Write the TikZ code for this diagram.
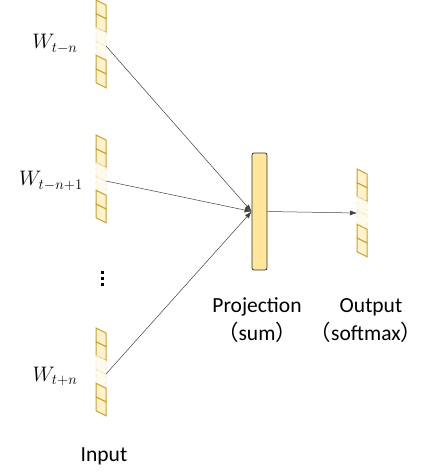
\documentclass[tikz,border=0pt]{standalone}
\usepackage{fix-cm}
\usepackage{amsmath,amssymb}
\usepackage{fontspec}
\setmainfont{Carlito}
\newfontfamily\cjk{Noto Sans CJK SC}
\usepackage{tikz}
\usetikzlibrary{positioning,calc,arrows.meta}
\usepackage{xcolor}
\definecolor{cellline}{HTML}{C9A227}
\definecolor{cellfill}{HTML}{FFF2CC}
\definecolor{fadefill}{HTML}{FFFAEE}
\definecolor{fadeline}{HTML}{F3E6C0}
\definecolor{projfill}{HTML}{FFE699}

\tikzset{
  cell/.style={draw=cellline, fill=cellfill, line width=1pt},
  fadecell/.style={draw=fadeline, fill=fadefill, dashed, line width=0.8pt},
  link/.style={draw=black!75, line width=0.5pt, -{Latex[length=7pt,width=5pt]}},
  lbl/.style={font=\fontsize{21.5}{25}\selectfont, inner sep=0pt},
  wlbl/.style={font=\fontsize{21}{25}\selectfont, inner sep=0pt},
  % word vector: six slanted cells, two of them faded
  wordvec/.pic={
    \foreach \i in {0,...,5} {
      \ifnum\i=2 \def\cst{fadecell}\else\ifnum\i=3 \def\cst{fadecell}\else\def\cst{cell}\fi\fi
      \draw[\cst] (0,{\i*13.8}) -- (10,{\i*13.8+5}) -- (10,{(\i+1)*13.8+5}) -- (0,{(\i+1)*13.8}) -- cycle;
    }
    \coordinate (-e) at (10,46);
    \coordinate (-w) at (0,44);
  }
}

\begin{document}
\begin{tikzpicture}[x=1pt,y=-1pt]
\useasboundingbox (0,0) rectangle (422,472);

% input words
\pic (v1) at (96,0) {wordvec};
\pic (v2) at (96,135) {wordvec};
\pic (v3) at (96,328) {wordvec};
\node[wlbl] (w1) at (55,44) {$W_{t-n}$};
\node[wlbl] (w2) at (51,181) {$W_{t-n+1}$};
\node[wlbl] (w3) at (55,376) {$W_{t+n}$};
\foreach \y in {272,278,284}
  \fill (100.5,\y-1.5) rectangle (103.5,\y+1.5);
\node[lbl] (inp) at (104,456) {Input};

% projection layer
\node[draw=black!80, fill=projfill, rounded corners=2pt, line width=0.8pt,
      minimum width=15pt, minimum height=117pt, inner sep=0pt] (proj) at (259.5,211.5) {};
\node[lbl] (projt) at (257,307) {Projection};
\node[lbl] (projs) at (257,332) {{\cjk （}sum{\cjk ）}};

% output word
\pic (out) at (357,169) {wordvec};
\node[lbl] (outt) at (371,307) {Output};
\node[lbl] (outs) at (366,332) {{\cjk （}softmax{\cjk ）}};

% connections
\draw[link] (v1-e) -- (proj.west);
\draw[link] (v2-e) -- (proj.west);
\draw[link] (v3-e) -- (proj.west);
\draw[link] (proj.east) -- (out-w);
\end{tikzpicture}
\end{document}
